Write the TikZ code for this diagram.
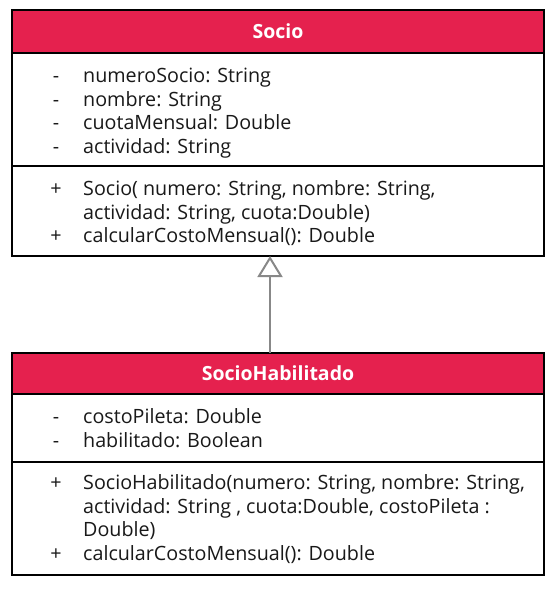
\documentclass[tikz,border=0pt]{standalone}
\usepackage{fontspec}
\setmainfont{Open Sans}
\usetikzlibrary{arrows.meta,calc}
\definecolor{umlred}{HTML}{E5214E}
\definecolor{linkgray}{HTML}{888888}
\tikzset{
  classbox/.style={draw=black, line width=1.5pt, anchor=north west, inner sep=0pt, outer sep=0pt, minimum width=532pt},
  classhead/.style={fill=umlred, draw=black, line width=1.5pt, anchor=north west, inner sep=0pt, outer sep=0pt, minimum width=532pt, text=white, font=\fontsize{19.5}{22}\selectfont\bfseries},
  member/.style={anchor=base west, inner sep=0pt, text=black!90},
  vis/.style={anchor=base, inner sep=0pt, text=black!90},
  sepline/.style={draw=black, line width=1.5pt},
  gen/.style={draw=linkgray, line width=2pt, -{Triangle[length=21pt,width=25pt,fill=white]}}
}
\begin{document}
\begin{tikzpicture}[x=1pt,y=-1pt,font=\fontsize{19.7}{23.5}\selectfont]
\useasboundingbox (0,0) rectangle (558,590);
\fill[white] (0,0) rectangle (558,590);

% ---- Socio ----
\node[classhead, minimum height=43pt] (sociohead) at (12,10) {Socio};
\node[classbox, minimum height=246pt] (socio) at (12,10) {};
\draw[sepline] (12,166) -- (544,166);
\node[vis] (sa1v) at (56,82.5) {-};
\node[member] (sa1) at (83,82.5) {numeroSocio: String};
\node[vis] (sa2v) at (56,106) {-};
\node[member] (sa2) at (83,106) {nombre: String};
\node[vis] (sa3v) at (56,129.5) {-};
\node[member] (sa3) at (83,129.5) {cuotaMensual: Double};
\node[vis] (sa4v) at (56,153) {-};
\node[member] (sa4) at (83,153) {actividad: String};
\node[vis] (sm1v) at (56,195.5) {+};
\node[member] (sm1) at (83,195.5) {Socio( numero: String, nombre: String,};
\node[member] (sm1b) at (83,219) {actividad: String, cuota:Double)};
\node[vis] (sm2v) at (56,242.5) {+};
\node[member] (sm2) at (83,242.5) {calcularCostoMensual(): Double};

% ---- SocioHabilitado ----
\node[classhead, minimum height=41pt] (habhead) at (12,353) {SocioHabilitado};
\node[classbox, minimum height=222pt] (hab) at (12,353) {};
\draw[sepline] (12,462) -- (544,462);
\node[vis] (ha1v) at (56,423.5) {-};
\node[member] (ha1) at (83,423.5) {costoPileta: Double};
\node[vis] (ha2v) at (56,447.2) {-};
\node[member] (ha2) at (83,447.2) {habilitado: Boolean};
\node[vis] (hm1v) at (56,489.5) {+};
\node[member] (hm1) at (83,489.5) {SocioHabilitado(numero: String, nombre: String,};
\node[member] (hm1b) at (83,513.2) {actividad: String , cuota:Double, costoPileta :};
\node[member] (hm1c) at (83,536.8) {Double)};
\node[vis] (hm2v) at (56,560.5) {+};
\node[member] (hm2) at (83,560.5) {calcularCostoMensual(): Double};

% ---- generalization ----
\draw[gen] ($(habhead.north)+(-8,0)$) -- ($(socio.south)+(-8,0)$);
\end{tikzpicture}
\end{document}
